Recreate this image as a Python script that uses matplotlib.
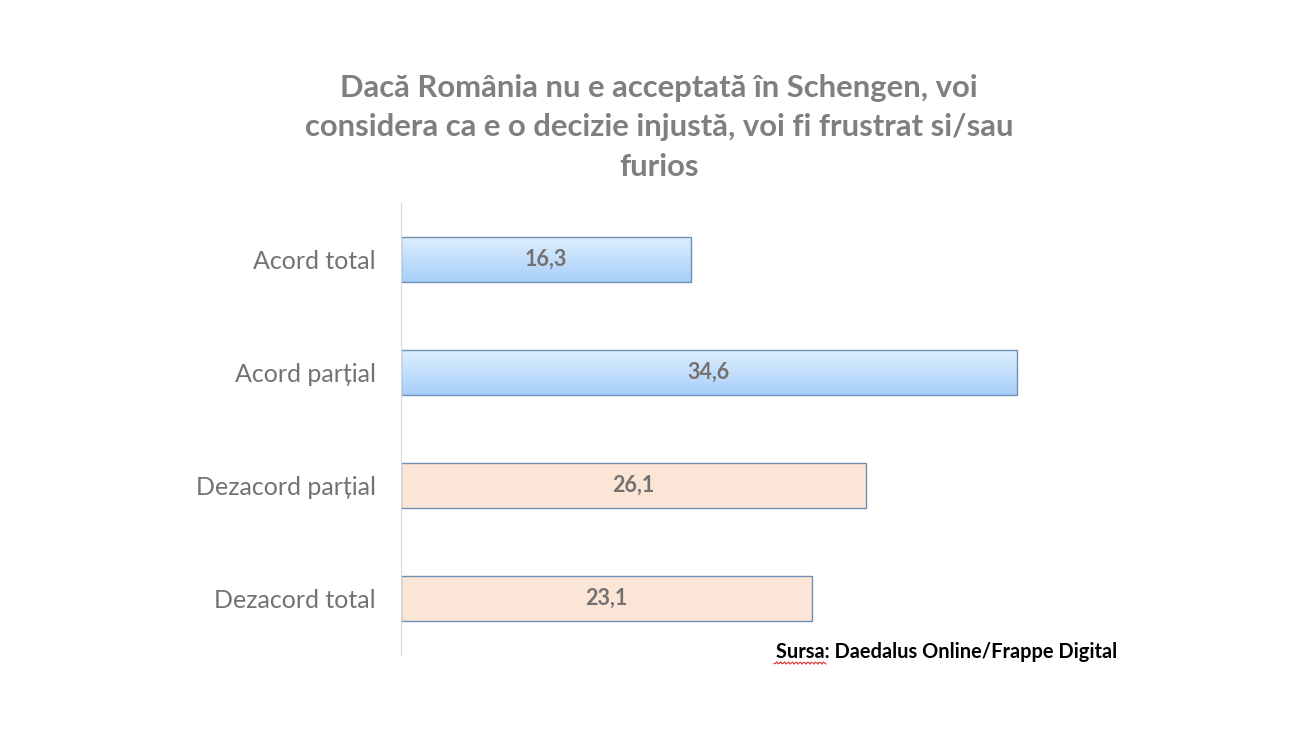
import matplotlib
matplotlib.use("Agg")
from matplotlib import pyplot as plt
import numpy as np

categories = ["Acord total", "Acord parțial", "Dezacord parțial", "Dezacord total"]
values = [16.3, 34.6, 26.1, 23.1]
value_labels = ["16,3", "34,6", "26,1", "23,1"]
is_agree = [True, True, False, False]

title = "Dacă România nu e acceptată în Schengen, voi\nconsidera ca e o decizie injustă, voi fi frustrat si/sau\nfurios"
source = "Sursa: Daedalus Online/Frappe Digital"

plt.rcParams['font.family'] = ['Lato', 'DejaVu Sans']

fig = plt.figure(figsize=(12.98, 7.30), dpi=100)
ax = fig.add_axes([401/1298, 1 - 655/730, 712/1298, 452/730])

pos = np.arange(len(categories))
bars = ax.barh(pos, values, height=0.4, color="#fbe5d6",
               edgecolor="#6f8fb5", linewidth=1.0, zorder=2)

# gradient fill for the "acord" bars
grad = np.linspace(0, 1, 64).reshape(-1, 1)
blue = matplotlib.colors.LinearSegmentedColormap.from_list("b", ["#dfeffe", "#a7cff9"])
for b, agree in zip(bars, is_agree):
    if agree:
        b.set_facecolor("none")
        x0, y0 = b.get_x(), b.get_y()
        w, h = b.get_width(), b.get_height()
        im = ax.imshow(grad, cmap=blue, aspect="auto", extent=[x0, x0 + w, y0 + h, y0],
                       origin="upper", zorder=1.5)
        im.set_clip_path(b)

for p, v, lab in zip(pos, values, value_labels):
    ax.text(v / 2, p, lab, ha="center", va="center", fontsize=15.5,
            fontweight="bold", color="#767171", zorder=3)

ax.set_xlim(0, 40)
ax.set_ylim(3.5, -0.5)
ax.set_yticks(pos)
ax.set_yticklabels(categories, fontsize=18, color="#767171")
ax.tick_params(axis="y", length=0, pad=18)
ax.set_xticks([])
for s in ["top", "right", "bottom"]:
    ax.spines[s].set_visible(False)
ax.spines["left"].set_color("#d9d9d9")

fig.text(659/1298, 1 - 127/730, title, ha="center", va="center", fontsize=22.3,
         fontweight="bold", color="#7f7f7f", linespacing=1.5)
fig.text(1117/1298, 1 - 652/730, source, ha="right", va="center", fontsize=14.4,
         fontweight="bold", color="black")

# red spell-check squiggle under "Sursa"
sx = np.linspace(774, 826, 40)
sy = 663 + 1.2 * np.sin(sx * 1.6)
fig.add_artist(plt.Line2D(sx / 1298, 1 - sy / 730, color="#e03030", linewidth=0.8))

fig.savefig("out.png", dpi=100)
